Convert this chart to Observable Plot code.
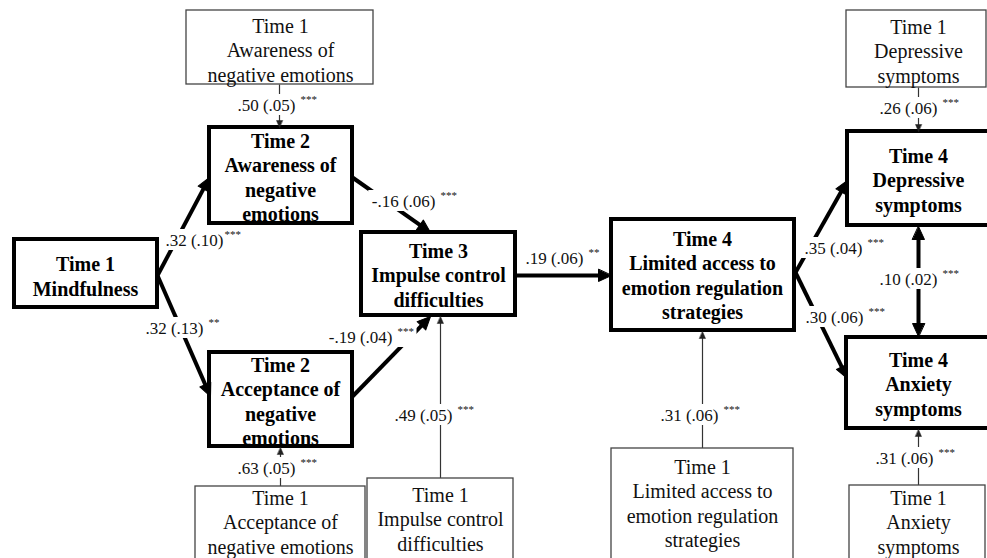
<!DOCTYPE html>
<html>
<head>
<meta charset="utf-8">
<script src="https://cdn.jsdelivr.net/npm/d3@7"></script>
<script src="https://cdn.jsdelivr.net/npm/@observablehq/plot@0.6"></script>
<style>
  html, body { margin: 0; padding: 0; background: #fff; }
  #chart svg { display: block; }
</style>
</head>
<body>
<div id="chart"></div>
<script>
// ---------- Data ----------
const W = 987, H = 558;

// Nodes (boxes)
const nodeNames  = ["mind", "aw2", "acc2", "imp3", "lim4", "dep4", "anx4", "aw1", "dep1", "acc1", "imp1", "lim1", "anx1"];
const nodeText   = [
  "Time 1\nMindfulness",
  "Time 2\nAwareness of\nnegative\nemotions",
  "Time 2\nAcceptance of\nnegative\nemotions",
  "Time 3\nImpulse control\ndifficulties",
  "Time 4\nLimited access to\nemotion regulation\nstrategies",
  "Time 4\nDepressive\nsymptoms",
  "Time 4\nAnxiety\nsymptoms",
  "Time 1\nAwareness of\nnegative emotions",
  "Time 1\nDepressive\nsymptoms",
  "Time 1\nAcceptance of\nnegative emotions",
  "Time 1\nImpulse control\ndifficulties",
  "Time 1\nLimited access to\nemotion regulation\nstrategies",
  "Time 1\nAnxiety\nsymptoms"
];
const nodeKind   = ["main", "main", "main", "main", "main", "main", "main", "base", "base", "base", "base", "base", "base"];
const nodeLeft   = [14, 209, 209, 361, 611, 847, 846, 186, 846, 195, 367, 611, 849];
const nodeRight  = [157, 352, 352, 515, 794, 1000, 1000, 373, 986, 365, 513, 793, 985];
const nodeTop    = [239, 127, 352, 232, 219, 131, 337, 10, 10, 486, 478, 448, 485];
const nodeBottom = [307, 223, 446, 315, 330, 225, 428, 84, 87, 570, 570, 570, 570];
const nodeTextX  = [85, 280, 280, 438, 702, 918, 918, 280, 918, 280, 440, 702, 918];
const nodeTextY  = [275, 176, 400, 274, 274, 179, 383, 49, 50, 521, 518, 502, 521];

// Paths (arrows): start point, end point (arrow tip), kind
const pathX1   = [157, 157, 352, 352, 515, 795, 795, 918, 918, 279, 918, 280, 440, 702, 918];
const pathY1   = [275, 275, 177, 396, 275, 272, 272, 278, 278, 84, 87, 486, 478, 448, 485];
const pathX2   = [209, 210, 430, 430, 611, 847, 847, 918, 918, 279, 918, 280, 440, 702, 918];
const pathY2   = [177, 396, 232, 316, 275, 180, 378, 226, 336, 127, 131, 447, 316, 331, 429];
const pathKind = ["main", "main", "main", "main", "main", "main", "main", "main", "main", "base", "base", "base", "base", "base", "base"];

// Path coefficient labels
const labelMain  = [".50 (.05)", ".32 (.10)", "-.16 (.06)", ".19 (.06)", ".35 (.04)", ".26 (.06)", ".10 (.02)", ".30 (.06)", ".32 (.13)", "-.19 (.04)", ".49 (.05)", ".63 (.05)", ".31 (.06)", ".31 (.06)"];
const labelStars = ["***", "***", "***", "**", "***", "***", "***", "***", "**", "***", "***", "***", "***", "***"];
const labelX     = [295, 223, 435, 583, 862, 937, 937, 863, 203, 392, 452, 295, 718, 933];
const labelY     = [105, 240, 201, 258, 248, 108, 279, 317, 328, 337, 415, 468, 415, 458];
const labelGap   = [5, 1, 5, 5, 5, 5, 5, 5, 5, 5, 5, 5, 5, 5];

// ---------- Build tables ----------
const font = "'Liberation Serif', 'Times New Roman', Times, serif";
const measureCtx = document.createElement("canvas").getContext("2d");
function textWidth(t, size) {
  measureCtx.font = `${size}px ${font}`;
  return measureCtx.measureText(t).width;
}

const nodes = nodeNames.map((id, i) => ({
  id, text: nodeText[i], kind: nodeKind[i],
  x1: nodeLeft[i], x2: nodeRight[i], y1: nodeTop[i], y2: nodeBottom[i],
  tx: nodeTextX[i], ty: nodeTextY[i]
}));

const paths = pathX1.map((x1, i) => {
  const y1 = pathY1[i], x2 = pathX2[i], y2 = pathY2[i];
  const dx = x2 - x1, dy = y2 - y1, len = Math.hypot(dx, dy);
  const kind = pathKind[i];
  const back = kind === "main" ? 10 : 5;
  return {
    x1, y1, x2, y2, kind,
    lx2: x2 - dx / len * back, ly2: y2 - dy / len * back,
    angle: Math.atan2(dx, -dy) * 180 / Math.PI
  };
});

const labels = labelMain.map((t, i) => {
  const wMain = textWidth(t, 17), wStars = textWidth(labelStars[i], 11);
  return {
    t, s: labelStars[i], x: labelX[i], y: labelY[i], gap: labelGap[i],
    bx1: labelX[i] - wMain - 3, bx2: labelX[i] + labelGap[i] + wStars + 3,
    by1: labelY[i] - 11, by2: labelY[i] + 10
  };
});

const headShape = {
  draw(ctx, l, r) {
    ctx.moveTo(0, -l);
    ctx.lineTo(r, 0);
    ctx.lineTo(-r, 0);
    ctx.closePath();
  }
};

const chart = Plot.plot({
  width: W,
  height: H,
  margin: 0,
  x: { domain: [0, W], axis: null },
  y: { domain: [H, 0], axis: null },
  style: { fontFamily: font, background: "white", color: "black" },
  marks: [
    // thin lines
    Plot.link(paths.filter(d => d.kind === "base"), {
      x1: "x1", y1: "y1", x2: "lx2", y2: "ly2",
      stroke: "#333", strokeWidth: 1.2
    }),
    // thick lines
    Plot.link(paths.filter(d => d.kind === "main"), {
      x1: "x1", y1: "y1", x2: "lx2", y2: "ly2",
      stroke: "black", strokeWidth: 4, strokeLinecap: "butt"
    }),
    // label backgrounds (break the lines where the coefficients sit)
    Plot.rect(labels, { x1: "bx1", x2: "bx2", y1: "by1", y2: "by2", fill: "white" }),
    // boxes
    Plot.rect(nodes.filter(d => d.kind === "base"), {
      x1: "x1", x2: "x2", y1: "y1", y2: "y2",
      fill: "white", stroke: "#444", strokeWidth: 1.3, clip: true
    }),
    Plot.rect(nodes.filter(d => d.kind === "main"), {
      x1: "x1", x2: "x2", y1: "y1", y2: "y2",
      fill: "white", stroke: "black", strokeWidth: 4, clip: true
    }),
    // arrow heads
    Plot.vector(paths.filter(d => d.kind === "base"), {
      x: "x2", y: "y2", rotate: "angle", length: 7, r: 3, anchor: "end",
      shape: headShape, fill: "#222", stroke: "#222", strokeWidth: 0.5
    }),
    Plot.vector(paths.filter(d => d.kind === "main"), {
      x: "x2", y: "y2", rotate: "angle", length: 13, r: 6, anchor: "end",
      shape: headShape, fill: "black", stroke: "black", strokeWidth: 1
    }),
    // box texts
    Plot.text(nodes.filter(d => d.kind === "main"), {
      x: "tx", y: "ty", text: "text", fontSize: 20, fontWeight: "bold",
      lineHeight: 1.22, fill: "black"
    }),
    Plot.text(nodes.filter(d => d.kind === "base"), {
      x: "tx", y: "ty", text: "text", fontSize: 20,
      lineHeight: 1.22, fill: "#111"
    }),
    // coefficient labels
    Plot.text(labels, {
      x: "x", y: "y", text: "t", textAnchor: "end", fontSize: 17, fill: "#111"
    }),
    Plot.text(labels, {
      x: d => d.x + d.gap, y: "y", text: "s", textAnchor: "start", fontSize: 11, dy: -6, fill: "#111"
    })
  ]
});

document.getElementById("chart").appendChild(chart);
</script>
</body>
</html>
